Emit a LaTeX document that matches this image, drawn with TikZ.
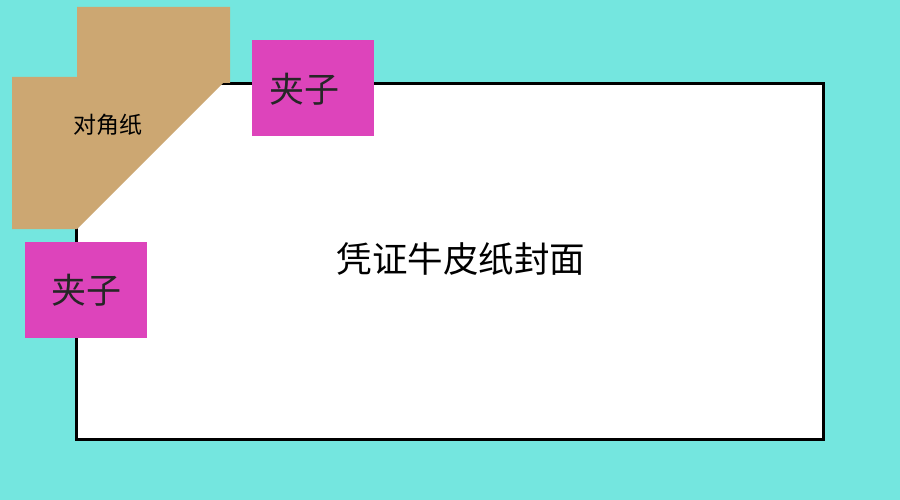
\documentclass[tikz,border=0pt]{standalone}
\usepackage{fontspec}
\setmainfont{Noto Sans CJK SC}
\usetikzlibrary{positioning}
\definecolor{bgcyan}{HTML}{74E6DF}
\definecolor{kraft}{HTML}{CCA772}
\definecolor{clipmag}{HTML}{DD44BB}

\begin{document}
\begin{tikzpicture}[x=1pt,y=-1pt,
  clip/.style={fill=clipmag,minimum width=122pt,minimum height=96pt,inner sep=0pt,
    font=\fontsize{35}{38}\selectfont,text=black!85}]
  \fill[bgcyan] (0,0) rectangle (900,500);
  \useasboundingbox (0,0) rectangle (900,500);
  % cover
  \draw[line width=3pt,fill=white] (76,84) rectangle (823,439);
  \node (cover) at (461,259) {\fontsize{35.5}{38}\selectfont 凭证牛皮纸封面};
  % corner paper
  \fill[kraft] (77,7) -- (230,7) -- (230,83) -- (223,83) -- (77,229)
    -- (12,229) -- (12,77) -- (77,77) -- cycle;
  \node (corner) at (108,125) {\fontsize{23}{26}\selectfont 对角纸};
  % clips
  \node[clip] (clipa) at (313,88) {};
  \node (clipatext) at (304,89) [font=\fontsize{35}{38}\selectfont,text=black!85] {夹子};
  \node[clip] (clipb) at (86,290) {夹子};
\end{tikzpicture}
\end{document}
